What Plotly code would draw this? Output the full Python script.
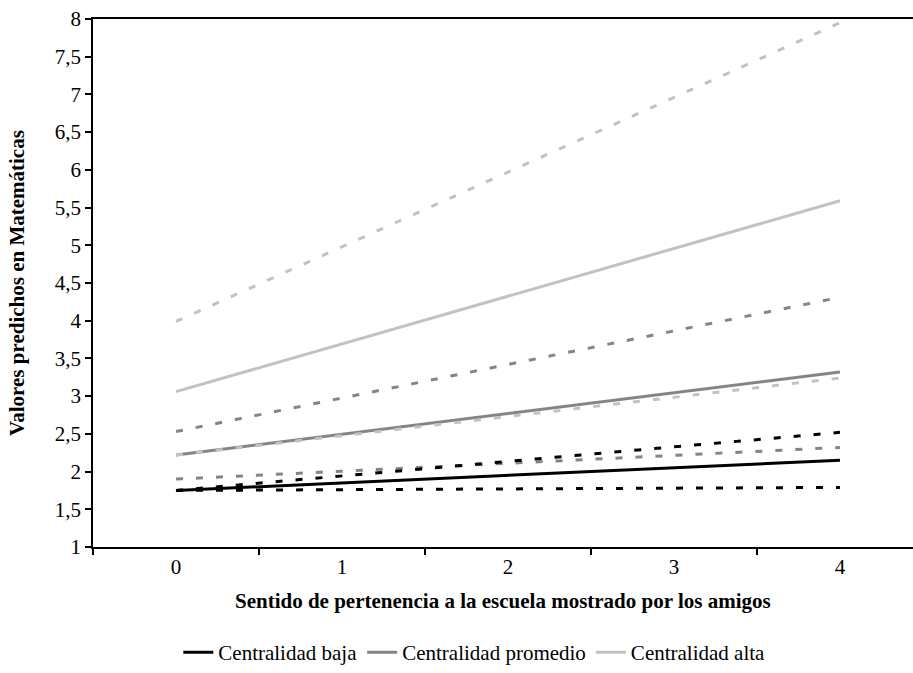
import plotly.graph_objects as go

# Predicted math scores vs. friends' school belonging, by centrality level
x_vals = [0, 4]
x_tick_vals = [0, 1, 2, 3, 4]
x_tick_text = ["0", "1", "2", "3", "4"]
y_tick_vals = [1, 1.5, 2, 2.5, 3, 3.5, 4, 4.5, 5, 5.5, 6, 6.5, 7, 7.5, 8]
y_tick_text = ["1", "1,5", "2", "2,5", "3", "3,5", "4", "4,5", "5", "5,5", "6", "6,5", "7", "7,5", "8"]

# Fitted lines (solid) and their bands (dashed, lower/upper)
baja_fit = [1.75, 2.15]
baja_low = [1.75, 1.79]
baja_high = [1.75, 2.52]

promedio_fit = [2.22, 3.32]
promedio_low = [1.90, 2.32]
promedio_high = [2.53, 4.31]

alta_fit = [3.06, 5.59]
alta_low = [2.22, 3.24]
alta_high = [3.99, 7.95]

BLACK = "#000000"
MID = "#858585"
LIGHT = "#c2c2c2"
DASH = "7px,13px"
FONT = "Liberation Serif"

fig = go.Figure()

groups = [
    ("Centralidad promedio", MID, promedio_fit, promedio_low, promedio_high, 2),
    ("Centralidad alta", LIGHT, alta_fit, alta_low, alta_high, 3),
    ("Centralidad baja", BLACK, baja_fit, baja_low, baja_high, 1),
]

for name, color, fit, low, high, rank in groups:
    fig.add_trace(go.Scatter(x=x_vals, y=fit, mode="lines", name=name,
                             line=dict(color=color, width=3),
                             legendrank=rank, showlegend=True))
    for band in (low, high):
        fig.add_trace(go.Scatter(x=x_vals, y=band, mode="lines",
                                 line=dict(color=color, width=3, dash=DASH),
                                 showlegend=False, hoverinfo="skip"))

fig.update_layout(
    width=913, height=673,
    margin=dict(l=93, r=0, t=19, b=120),
    plot_bgcolor="white", paper_bgcolor="white",
    font=dict(family=FONT, size=21, color="black"),
    showlegend=True,
    legend=dict(orientation="h", x=0.465, xanchor="center", y=-0.2, yanchor="middle",
                font=dict(family=FONT, size=21, color="black"),
                traceorder="normal"),
)

fig.update_xaxes(
    range=[-0.5, 4.44], tickmode="array", tickvals=x_tick_vals, ticktext=x_tick_text,
    ticks="", showgrid=False, zeroline=False,
    showline=True, linecolor="black", linewidth=1.5, mirror=True,
    minor=dict(tick0=0.5, dtick=1, ticks="outside", ticklen=6, tickwidth=1.5,
               tickcolor="black", showgrid=False),
    tickfont=dict(family=FONT, size=21),
)
fig.update_yaxes(
    range=[1, 8], tickmode="array", tickvals=y_tick_vals, ticktext=y_tick_text,
    ticks="outside", ticklen=6, tickwidth=1.5, tickcolor="black",
    showgrid=False, zeroline=False,
    showline=True, linecolor="black", linewidth=1.5,
    tickfont=dict(family=FONT, size=21),
)

fig.add_annotation(text="<b>Sentido de pertenencia a la escuela mostrado por los amigos</b>",
                   xref="paper", yref="paper", x=0.5, y=-0.103,
                   xanchor="center", yanchor="middle", showarrow=False,
                   font=dict(family=FONT, size=21, color="black"))
fig.add_annotation(text="<b>Valores predichos en Matemáticas</b>",
                   xref="paper", yref="paper", x=-0.0927, y=0.5,
                   xanchor="center", yanchor="middle", showarrow=False, textangle=-90,
                   font=dict(family=FONT, size=21, color="black"))

fig.write_html("out.html")
